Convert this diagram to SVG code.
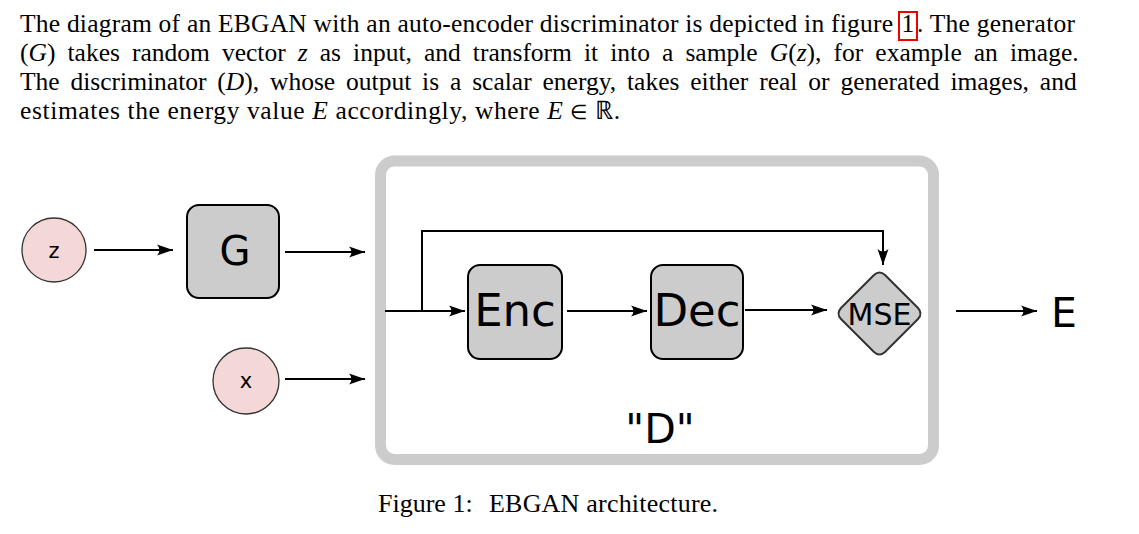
<svg xmlns="http://www.w3.org/2000/svg" width="1139" height="534" viewBox="0 0 1139 534">
<style>
.body{font-family:"Liberation Serif","Times New Roman",serif;font-size:25.5px;fill:#000}
.it{font-style:italic}
.node{fill:#cccccc;stroke:#000;stroke-width:2}
.circ{fill:#f4d7d7;stroke:#333;stroke-width:1.3}
.lbl{font-family:"DejaVu Sans",sans-serif;fill:#000;text-anchor:middle}
.conn{fill:none;stroke:#000;stroke-width:2}
</style>
<defs>
<marker id="arr" markerUnits="userSpaceOnUse" markerWidth="20" markerHeight="14" viewBox="-17 -7 20 14" refX="0" refY="0" orient="auto">
<path d="M0,0 L-16,-5.5 Q-11,0 -16,5.5 Z" fill="#000"/>
</marker>
</defs>
<rect width="1139" height="534" fill="#fff"/>
<g id="paragraph">
<text class="body" x="20" y="32" textLength="873" lengthAdjust="spacing">The diagram of an EBGAN with an auto-encoder discriminator is depicted in figure</text>
<text class="body" x="901.5" y="32">1</text>
<text class="body" x="917" y="32" textLength="158" lengthAdjust="spacing">. The generator</text>
<text class="body" x="20" y="61" style="word-spacing:5.7px">(<tspan class="it">G</tspan>) takes random vector <tspan class="it">z</tspan> as input, and transform it into a sample <tspan class="it">G</tspan>(<tspan class="it">z</tspan>), for example an image.</text>
<text class="body" x="20" y="90" style="word-spacing:4.5px">The discriminator (<tspan class="it">D</tspan>), whose output is a scalar energy, takes either real or generated images, and</text>
<text class="body" x="20" y="119" textLength="600" lengthAdjust="spacing">estimates the energy value <tspan class="it">E</tspan> accordingly, where <tspan class="it">E</tspan> <tspan style="font-size:20px">∈</tspan> ℝ.</text>
<rect x="899" y="12" width="18" height="28" fill="none" stroke="#e00" stroke-width="2"/>
</g>
<g id="D-container">
<rect x="380.5" y="161" width="553" height="298.5" rx="14" fill="#fff" stroke="#cccccc" stroke-width="11"/>
<text class="lbl" x="660" y="443" font-size="41">"D"</text>
</g>
<g id="connectors">
<line class="conn" x1="94" y1="250" x2="173" y2="250" marker-end="url(#arr)"/>
<line class="conn" x1="285" y1="252" x2="365" y2="252" marker-end="url(#arr)"/>
<line class="conn" x1="285" y1="379" x2="365" y2="379" marker-end="url(#arr)"/>
<line class="conn" x1="385" y1="311" x2="465" y2="311" marker-end="url(#arr)"/>
<polyline class="conn" points="422,311 422,231 883,231 883,265" marker-end="url(#arr)"/>
<line class="conn" x1="567" y1="311" x2="647" y2="311" marker-end="url(#arr)"/>
<line class="conn" x1="745" y1="310" x2="827" y2="310" marker-end="url(#arr)"/>
<line class="conn" x1="956" y1="311" x2="1037" y2="311" marker-end="url(#arr)"/>
</g>
<g id="node-z">
<circle class="circ" cx="54" cy="250" r="32"/>
<text class="lbl" x="54" y="258" font-size="21">z</text>
</g>
<g id="node-x">
<circle class="circ" cx="246" cy="381" r="33"/>
<text class="lbl" x="246" y="388" font-size="21">x</text>
</g>
<g id="node-G">
<rect class="node" x="187" y="205" width="92" height="93" rx="12"/>
<text class="lbl" x="235" y="265" font-size="40">G</text>
</g>
<g id="node-Enc">
<rect class="node" x="468" y="265" width="94" height="94" rx="12"/>
<text class="lbl" x="515" y="326" font-size="45">Enc</text>
</g>
<g id="node-Dec">
<rect class="node" x="651" y="265" width="92" height="94" rx="12"/>
<text class="lbl" x="697" y="326" font-size="45">Dec</text>
</g>
<g id="node-MSE">
<path d="M874,275 Q879.5,270 885,275 L918,308 Q923,313.5 918,319 L885,352 Q879.5,357 874,352 L841,319 Q836,313.5 841,308 Z" fill="#cccccc" stroke="#333" stroke-width="2"/>
<text class="lbl" x="879.5" y="325" font-size="30">MSE</text>
</g>
<g id="node-E">
<text class="lbl" x="1064" y="327" font-size="41">E</text>
</g>
<g id="caption">
<text class="body" x="378" y="512" style="font-size:26px">Figure 1:</text>
<text class="body" x="489" y="512" textLength="229" lengthAdjust="spacing" style="font-size:26px">EBGAN architecture.</text>
</g>
</svg>
